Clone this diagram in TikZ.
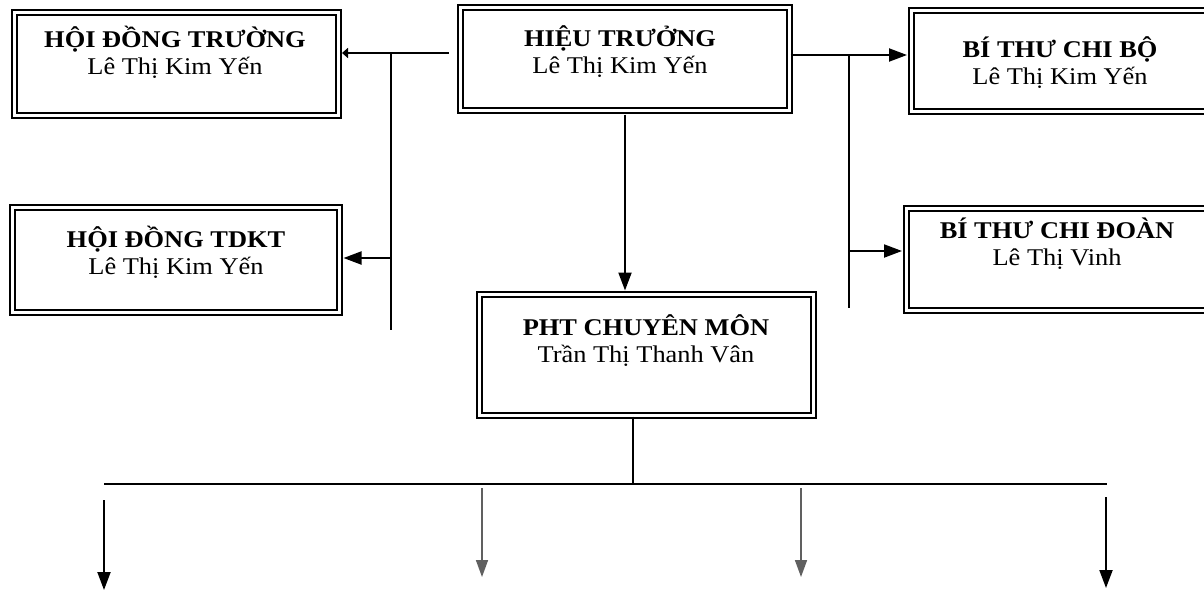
\documentclass[tikz,border=0pt]{standalone}
\usepackage{fontspec}
\setmainfont{Liberation Serif}[FakeStretch=1.1]
\usetikzlibrary{arrows.meta,positioning}

\tikzset{
  unitbox/.style={draw, double, double distance=3pt, line width=2pt, inner sep=0pt},
  unittext/.style={align=center, inner sep=0pt, font=\fontsize{24}{27}\selectfont},
  link/.style={line width=2pt},
  linkarr/.style={link, -{Triangle[length=18pt,width=13pt]}},
  stubarr/.style={link, -{Triangle[length=6pt,width=10pt]}},
  faintarr/.style={line width=1.6pt, gray!75!black, -{Triangle[length=17pt,width=12pt]}},
}

\begin{document}
\begin{tikzpicture}[x=1pt,y=-1pt]
    \useasboundingbox[fill=white] (0,0) rectangle (1204,592);
    % Boxes
    \node[unitbox, minimum width=324pt, minimum height=103pt] (hdt) at (176,63.5) {};
    \node[unitbox, minimum width=329pt, minimum height=103pt] (ht) at (625,59) {};
    \node[unitbox, minimum width=298pt, minimum height=101pt] (bcb) at (1060,61) {};
    \node[unitbox, minimum width=327pt, minimum height=105pt] (tdkt) at (176,259.5) {};
    \node[unitbox, minimum width=302pt, minimum height=102pt] (bcd) at (1057,259) {};
    \node[unitbox, minimum width=334pt, minimum height=121pt] (pht) at (646,355) {};
    % Texts
    \node[unittext] (hdt-t) at (175,52) {\textbf{HỘI ĐỒNG TRƯỜNG}\\Lê Thị Kim Yến};
    \node[unittext] (ht-t) at (620,52) {\textbf{HIỆU TRƯỞNG}\\Lê Thị Kim Yến};
    \node[unittext] (bcb-t) at (1060,63) {\textbf{BÍ THƯ CHI BỘ}\\Lê Thị Kim Yến};
    \node[unittext] (tdkt-t) at (176,252) {\textbf{HỘI ĐỒNG TDKT}\\Lê Thị Kim Yến};
    \node[unittext] (bcd-t) at (1057,244) {\textbf{BÍ THƯ CHI ĐOÀN}\\Lê Thị Vinh};
    \node[unittext] (pht-t) at (646,341) {\textbf{PHT CHUYÊN MÔN}\\Trần Thị Thanh Vân};
    % Junctions
    \coordinate (jl) at (391,53);
    \coordinate (jlend) at (391,330);
    \coordinate (jr) at (849,55);
    \coordinate (jrend) at (849,308);
    \coordinate (bus) at (633,484);
    \coordinate (busl) at (104,484);
    \coordinate (busr) at (1107,484);
    % Left branch
    \draw[stubarr, shorten >=3pt] ([xshift=-11pt]ht.west |- jl) -- (hdt.east |- jl);
    \draw[link] (jl) -- (jlend);
    \draw[linkarr, shorten >=3pt] (jl |- 0,258) -- (tdkt.east |- 0,258);
    % Right branch
    \draw[linkarr, shorten >=3pt] (ht.east |- jr) -- (bcb.west |- jr);
    \draw[link] (jr) -- (jrend);
    \draw[linkarr, shorten >=3pt] (jr |- 0,251) -- (bcd.west |- 0,251);
    % Down to PHT
    \draw[linkarr, shorten <=3pt, shorten >=3pt] (ht.south) -- (ht.south |- pht.north);
    % Bottom bus
    \draw[link] (pht.south -| bus) -- (bus);
    \draw[link] (busl) -- (busr);
    % Arrows below the bus
    \coordinate (a1) at (104,590);
    \coordinate (a2) at (482,577);
    \coordinate (a3) at (801,577);
    \coordinate (a4) at (1106,588);
    \draw[linkarr] (104,500) -- (a1);
    \draw[faintarr] (482,488) -- (a2);
    \draw[faintarr] (801,488) -- (a3);
    \draw[linkarr] (1106,497) -- (a4);
\end{tikzpicture}
\end{document}
